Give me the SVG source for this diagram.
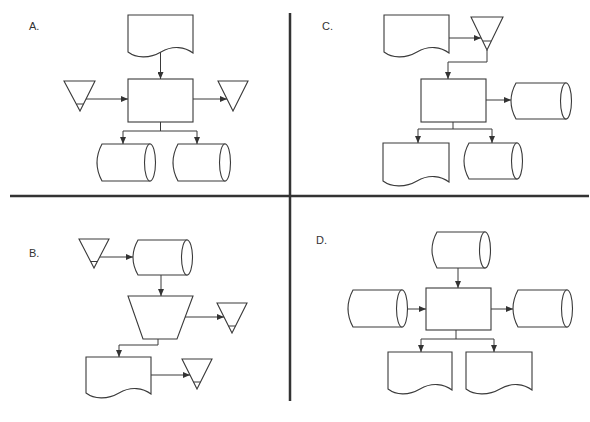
<svg xmlns="http://www.w3.org/2000/svg" width="590" height="422" viewBox="0 0 590 422">
<defs>
<style>
.s{fill:#fff;stroke:#3a3a3a;stroke-width:1.1}
.c{fill:none;stroke:#3a3a3a;stroke-width:1}
.a{marker-end:url(#ah)}
.sep{stroke:#333;stroke-width:2.5;fill:none}
.t{font-family:"Liberation Sans",Arial,sans-serif;font-size:11px;fill:#333}
</style>
<marker id="ah" markerWidth="7" markerHeight="6" refX="7" refY="3" orient="auto" markerUnits="userSpaceOnUse">
<path d="M0,0 L7,3 L0,6 z" fill="#333"/>
</marker>
</defs>
<rect width="590" height="422" fill="#fff"/>
<g id="separators">
<line class="sep" x1="290" y1="13" x2="290" y2="401"/>
<line class="sep" x1="10" y1="196" x2="589" y2="196"/>
</g>
<g id="labels">
<text class="t" x="29" y="30">A.</text>
<text class="t" x="322" y="30">C.</text>
<text class="t" x="29" y="257">B.</text>
<text class="t" x="316" y="244">D.</text>
</g>
<!-- Quadrant A -->
<g id="A-doc"><path class="s" d="M128,15 h65 v38 c-8,-6 -20,-8 -32,-1 c-12,7 -25,6 -33,0 z"/></g>
<g id="A-proc"><rect class="s" x="128" y="79" width="65" height="43"/></g>
<g id="A-tri-left"><path class="s" d="M64,81 H95 L80,111 Z"/><line class="c" x1="76.5" y1="104" x2="83.5" y2="104"/></g>
<g id="A-tri-right"><path class="s" d="M218,81 H248 L233,111 Z"/></g>
<g id="A-cyl-left"><path class="s" d="M102,144 H150 V181 H102 Q92,162.5 102,144 Z"/><ellipse class="s" cx="150" cy="162.5" rx="5.5" ry="18.5"/></g>
<g id="A-cyl-right"><path class="s" d="M178,144 H225 V181 H178 Q168,162.5 178,144 Z"/><ellipse class="s" cx="225" cy="162.5" rx="5.5" ry="18.5"/></g>
<!-- Quadrant C -->
<g id="C-doc-top"><path class="s" d="M384,15 h65 v38 c-8,-6 -20,-8 -32,-1 c-12,7 -25,6 -33,0 z"/></g>
<g id="C-tri"><path class="s" d="M471,17 H503 L487,50 Z"/><line class="c" x1="483" y1="41" x2="491" y2="41"/></g>
<g id="C-proc"><rect class="s" x="421" y="79" width="65" height="43"/></g>
<g id="C-cyl-right"><path class="s" d="M516,83 H566 V119 H516 Q506,101 516,83 Z"/><ellipse class="s" cx="566" cy="101" rx="5.5" ry="18"/></g>
<g id="C-doc-bottom"><path class="s" d="M383,143 h66 v39 c-8,-6 -20,-8 -32,-1 c-12,7 -26,6 -34,0 z"/></g>
<g id="C-cyl-bottom"><path class="s" d="M469,143 H517 V179 H469 Q459,161 469,143 Z"/><ellipse class="s" cx="517" cy="161" rx="5.5" ry="18"/></g>
<!-- Quadrant B -->
<g id="B-tri-top"><path class="s" d="M79,239 H109 L94,268 Z"/><line class="c" x1="90.5" y1="261.5" x2="97.5" y2="261.5"/></g>
<g id="B-cyl"><path class="s" d="M138,240 H187 V275 H138 Q128,257.5 138,240 Z"/><ellipse class="s" cx="187" cy="257.5" rx="5.5" ry="17.5"/></g>
<g id="B-trap"><path class="s" d="M128,296 H193 L177,339 H143 Z"/></g>
<g id="B-tri-right"><path class="s" d="M217,303 H247 L232,333 Z"/><line class="c" x1="228.5" y1="326" x2="235.5" y2="326"/></g>
<g id="B-doc"><path class="s" d="M86,357 h65 v37 c-8,-6 -20,-8 -32,-1 c-12,7 -25,6 -33,0 z"/></g>
<g id="B-tri-bottom"><path class="s" d="M182,359 H212 L197,389 Z"/><line class="c" x1="193.5" y1="382" x2="200.5" y2="382"/></g>
<!-- Quadrant D -->
<g id="D-cyl-top"><path class="s" d="M437,232 H485 V268 H437 Q427,250 437,232 Z"/><ellipse class="s" cx="485" cy="250" rx="5.5" ry="18"/></g>
<g id="D-proc"><rect class="s" x="426" y="288" width="65" height="42"/></g>
<g id="D-cyl-left"><path class="s" d="M353,290 H402 V327 H353 Q343,308.5 353,290 Z"/><ellipse class="s" cx="402" cy="308.5" rx="5.5" ry="18.5"/></g>
<g id="D-cyl-right"><path class="s" d="M518,290 H567 V327 H518 Q508,308.5 518,290 Z"/><ellipse class="s" cx="567" cy="308.5" rx="5.5" ry="18.5"/></g>
<g id="D-doc-left"><path class="s" d="M388,352 h64 v38 c-8,-6 -20,-8 -32,-1 c-12,7 -24,6 -32,0 z"/></g>
<g id="D-doc-right"><path class="s" d="M466,352 h66 v38 c-8,-6 -20,-8 -32,-1 c-12,7 -26,6 -34,0 z"/></g>
<g id="connectors">
<!-- A -->
<line class="c a" x1="160.5" y1="52" x2="160.5" y2="79"/>
<line class="c a" x1="86" y1="99" x2="128" y2="99"/>
<line class="c a" x1="193" y1="99" x2="227" y2="99"/>
<polyline class="c" points="160.5,122 160.5,131"/>
<polyline class="c" points="123,131 197,131"/>
<line class="c a" x1="123" y1="131" x2="123" y2="144"/>
<line class="c a" x1="197" y1="131" x2="197" y2="144"/>
<!-- C -->
<line class="c a" x1="449" y1="38" x2="481" y2="38"/>
<polyline class="c a" points="487,50 487,62 448,62 448,79"/>
<line class="c a" x1="486" y1="100" x2="511" y2="100"/>
<polyline class="c" points="453,122 453,129"/>
<polyline class="c" points="418,129 492,129"/>
<line class="c a" x1="418" y1="129" x2="418" y2="143"/>
<line class="c a" x1="492" y1="129" x2="492" y2="143"/>
<!-- B -->
<line class="c a" x1="100" y1="257" x2="133" y2="257"/>
<line class="c a" x1="161" y1="275" x2="161" y2="296"/>
<line class="c a" x1="185" y1="317" x2="224" y2="317"/>
<polyline class="c a" points="158,339 158,345 119,345 119,357"/>
<line class="c a" x1="151" y1="375" x2="190" y2="375"/>
<!-- D -->
<line class="c a" x1="458" y1="268" x2="458" y2="288"/>
<line class="c a" x1="407" y1="309" x2="426" y2="309"/>
<line class="c a" x1="491" y1="309" x2="513" y2="309"/>
<polyline class="c" points="456,330 456,339"/>
<polyline class="c" points="421,339 494,339"/>
<line class="c a" x1="421" y1="339" x2="421" y2="352"/>
<line class="c a" x1="494" y1="339" x2="494" y2="352"/>
</g>
</svg>
